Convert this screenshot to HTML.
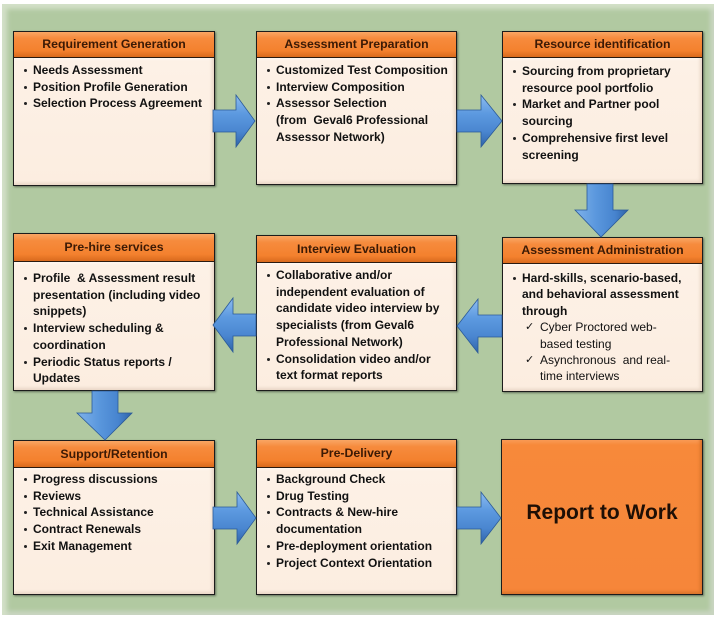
<!DOCTYPE html>
<html><head><meta charset="utf-8">
<style>
html,body{margin:0;padding:0;background:#fff;}
#c{position:relative;width:717px;height:621px;overflow:hidden;background:#fff;font-family:"Liberation Sans",Arial,sans-serif;}
.frame{position:absolute;left:2px;top:4px;width:712px;height:611px;background:#b1c9a1;
 box-shadow:inset 7px 7px 5px -2px #d3e0c8, inset -5px -5px 4px -1px #c9d5c1;}
.box{position:absolute;border:1.5px solid #1c1c1c;box-sizing:border-box;background:#fcefe3;
 box-shadow:1px 1px 2px rgba(0,0,0,0.45);}
.hd{position:absolute;left:0;top:0;right:0;background:linear-gradient(#f9a664 0%,#f68b3d 25%,#f4812e 75%,#d96a1d 100%);
 border-bottom:1.5px solid #2a1a10;box-sizing:border-box;color:#3c1a05;font-weight:bold;font-size:12.3px;text-align:center;}
.bd{position:absolute;left:0;right:0;bottom:0;background:linear-gradient(#fffaf5 0px,#fdf1e6 4px,#fcede0 100%);
 box-shadow:inset -3px -3px 3px -1px #e8d6c6;}
.tx{position:absolute;left:0;right:0;font-weight:bold;font-size:12px;line-height:16.7px;color:#111;}
.it{position:relative;padding-left:19px;white-space:nowrap;}
.it::before{content:"";position:absolute;left:10px;top:7px;width:3px;height:3px;border-radius:50%;background:#222;}
.ck{position:relative;padding-left:37px;font-weight:normal;white-space:nowrap;}
.ck::before{content:"\2713";position:absolute;left:22px;top:0;font-size:11px;}
svg{position:absolute;left:0;top:0;}
</style></head><body>
<div id="c">
<div class="frame"></div>

<!-- Box 1 -->
<div class="box" style="left:13px;top:31px;width:202px;height:155px;">
 <div class="bd" style="top:25px;"></div>
 <div class="hd" style="height:26px;line-height:25px;">Requirement Generation</div>
 <div class="tx" style="top:30px;">
  <div class="it">Needs Assessment</div>
  <div class="it">Position Profile Generation</div>
  <div class="it">Selection Process Agreement</div>
 </div>
</div>

<!-- Box 2 -->
<div class="box" style="left:256px;top:31px;width:201px;height:154px;">
 <div class="bd" style="top:25px;"></div>
 <div class="hd" style="height:26px;line-height:25px;">Assessment Preparation</div>
 <div class="tx" style="top:30px;">
  <div class="it">Customized Test Composition</div>
  <div class="it">Interview Composition</div>
  <div class="it">Assessor Selection<br>(from&nbsp; Geval6 Professional<br>Assessor Network)</div>
 </div>
</div>

<!-- Box 3 -->
<div class="box" style="left:502px;top:31px;width:201px;height:153px;">
 <div class="bd" style="top:25px;"></div>
 <div class="hd" style="height:26px;line-height:25px;">Resource identification</div>
 <div class="tx" style="top:31px;">
  <div class="it">Sourcing from proprietary<br>resource pool portfolio</div>
  <div class="it">Market and Partner pool<br>sourcing</div>
  <div class="it">Comprehensive first level<br>screening</div>
 </div>
</div>

<!-- Box 4 Pre-hire -->
<div class="box" style="left:13px;top:233px;width:202px;height:158px;">
 <div class="bd" style="top:27px;"></div>
 <div class="hd" style="height:28px;line-height:27px;">Pre-hire services</div>
 <div class="tx" style="top:36px;">
  <div class="it">Profile&nbsp; &amp; Assessment result<br>presentation (including video<br>snippets)</div>
  <div class="it">Interview scheduling &amp;<br>coordination</div>
  <div class="it">Periodic Status reports /<br>Updates</div>
 </div>
</div>

<!-- Box 5 Interview Evaluation -->
<div class="box" style="left:256px;top:235px;width:201px;height:156px;">
 <div class="bd" style="top:26px;"></div>
 <div class="hd" style="height:27px;line-height:26px;">Interview Evaluation</div>
 <div class="tx" style="top:31px;">
  <div class="it">Collaborative and/or<br>independent evaluation of<br>candidate video interview by<br>specialists (from Geval6<br>Professional Network)</div>
  <div class="it">Consolidation video and/or<br>text format reports</div>
 </div>
</div>

<!-- Box 6 Assessment Administration -->
<div class="box" style="left:502px;top:237px;width:201px;height:155px;">
 <div class="bd" style="top:25px;"></div>
 <div class="hd" style="height:26px;line-height:25px;">Assessment Administration</div>
 <div class="tx" style="top:32px;line-height:16.4px;">
  <div class="it">Hard-skills, scenario-based,<br>and behavioral assessment<br>through</div>
  <div class="ck">Cyber Proctored web-<br>based testing</div>
  <div class="ck">Asynchronous&nbsp; and real-<br>time interviews</div>
 </div>
</div>

<!-- Box 7 Support/Retention -->
<div class="box" style="left:13px;top:440px;width:202px;height:155px;">
 <div class="bd" style="top:26px;"></div>
 <div class="hd" style="height:27px;line-height:26px;">Support/Retention</div>
 <div class="tx" style="top:30px;">
  <div class="it">Progress discussions</div>
  <div class="it">Reviews</div>
  <div class="it">Technical Assistance</div>
  <div class="it">Contract Renewals</div>
  <div class="it">Exit Management</div>
 </div>
</div>

<!-- Box 8 Pre-Delivery -->
<div class="box" style="left:256px;top:439px;width:201px;height:156px;">
 <div class="bd" style="top:27px;"></div>
 <div class="hd" style="height:28px;line-height:27px;">Pre-Delivery</div>
 <div class="tx" style="top:31px;">
  <div class="it">Background Check</div>
  <div class="it">Drug Testing</div>
  <div class="it">Contracts &amp; New-hire<br>documentation</div>
  <div class="it">Pre-deployment orientation</div>
  <div class="it">Project Context Orientation</div>
 </div>
</div>

<!-- Box 9 Report to Work -->
<div class="box" style="left:501px;top:439px;width:202px;height:156px;background:linear-gradient(#f89a55 0px,#f7893a 5px,#f6863a 100%);box-shadow:1px 1px 2px rgba(0,0,0,0.45), inset -3px -3px 3px -1px #d8732a;">
 <div style="position:absolute;left:0;right:0;top:61px;text-align:center;font-weight:bold;font-size:21px;line-height:24px;color:#1e0f05;">Report to Work</div>
</div>

<svg width="717" height="621" viewBox="0 0 717 621">
 <defs>
  <linearGradient id="gh" x1="0" y1="0" x2="0" y2="1">
   <stop offset="0" stop-color="#8dbcf0"/>
   <stop offset="0.35" stop-color="#5d9ae0"/>
   <stop offset="0.7" stop-color="#4a86d0"/>
   <stop offset="1" stop-color="#2f64a8"/>
  </linearGradient>
  <linearGradient id="gv" x1="0" y1="0" x2="1" y2="0">
   <stop offset="0" stop-color="#7fb2ea"/>
   <stop offset="0.4" stop-color="#5a97dd"/>
   <stop offset="0.75" stop-color="#4784cf"/>
   <stop offset="1" stop-color="#2f64a8"/>
  </linearGradient>
 </defs>
 <g stroke="#2b5a98" stroke-width="0.8" stroke-linejoin="miter">
  <!-- right arrows -->
  <path d="M213,110 L236,110 L236,95 L255,121 L236,147 L236,132 L213,132 Z" fill="url(#gh)"/>
  <path d="M457,110 L481,110 L481,95 L502,121 L481,147 L481,132 L457,132 Z" fill="url(#gh)"/>
  <path d="M213,507 L237,507 L237,492 L256,518 L237,544 L237,529 L213,529 Z" fill="url(#gh)"/>
  <path d="M457,507 L481,507 L481,492 L501,518 L481,544 L481,529 L457,529 Z" fill="url(#gh)"/>
  <!-- left arrows -->
  <path d="M256,314 L233,314 L233,298 L213,325 L233,352 L233,336 L256,336 Z" fill="url(#gh)"/>
  <path d="M502,315 L478,315 L478,299 L457,326 L478,353 L478,337 L502,337 Z" fill="url(#gh)"/>
  <!-- down arrows -->
  <path d="M587,184 L613,184 L613,210 L628,210 L601,237 L575,210 L587,210 Z" fill="url(#gv)"/>
  <path d="M92,391 L118,391 L118,413 L132,413 L105,440 L77,413 L92,413 Z" fill="url(#gv)"/>
 </g>
</svg>
</div>
</body></html>
